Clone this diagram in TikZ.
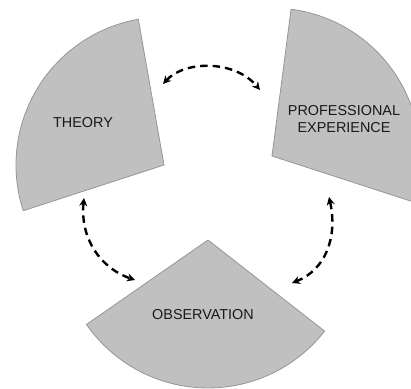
\documentclass[tikz,border=0pt]{standalone}
\usepackage{fontspec}
\setmainfont{Liberation Sans}
\usetikzlibrary{arrows.meta}
\definecolor{sectorfill}{RGB}{192,192,192}
\definecolor{sectoredge}{RGB}{150,150,150}
\definecolor{labeltext}{RGB}{25,25,25}
\tikzset{
  sector/.style={fill=sectorfill, draw=sectoredge, line width=0.8pt, line join=round},
  label text/.style={text=labeltext, font=\fontsize{14.4}{17}\selectfont, align=center, inner sep=0pt},
  cycle arrow/.style={line width=2.4pt, dash pattern=on 7.5pt off 5pt, {Stealth[length=8pt,width=8pt]}-{Stealth[length=8pt,width=8pt]}}
}
\begin{document}
\begin{tikzpicture}[x=1pt,y=1pt]
\useasboundingbox (0,0) rectangle (411,388);
\clip (0,0) rectangle (411,388);
% sectors
\coordinate (tc) at (164,223);
\coordinate (pc) at (272,232);
\coordinate (oc) at (208,148);
\draw[sector] (tc) -- ++(100:148pt) arc[start angle=100, end angle=198, radius=148pt] -- cycle;
\draw[sector] (pc) -- ++(-18:148pt) arc[start angle=-18, end angle=82.6, radius=148pt] -- cycle;
\draw[sector] (oc) -- ++(214.8:148pt) arc[start angle=214.8, end angle=322, radius=148pt] -- cycle;
% labels
\node[label text] (theory) at (83,265) {THEORY};
\node[label text] (prof) at (344,268.5) {PROFESSIONAL\\EXPERIENCE};
\node[label text] (obs) at (203,73) {OBSERVATION};
% arrow end points
\coordinate (a1) at (163,304);
\coordinate (a2) at (260,298);
\coordinate (b1) at (84,190);
\coordinate (b2) at (135,108);
\coordinate (c1) at (329,191);
\coordinate (c2) at (292,105);
\draw[cycle arrow] (a1) .. controls (185,328) and (235,328) .. (a2);
\draw[cycle arrow] (b1) .. controls (80,150) and (100,120) .. (b2);
\draw[cycle arrow] (c1) .. controls (338,150) and (325,118) .. (c2);
\end{tikzpicture}
\end{document}
